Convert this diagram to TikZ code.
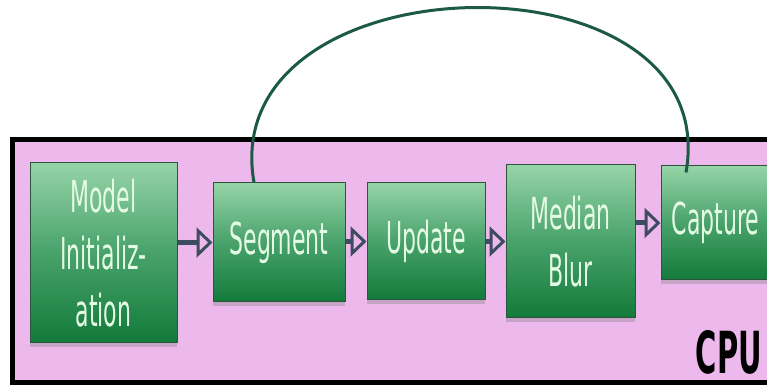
\documentclass[tikz,border=0pt]{standalone}
\usepackage{fontspec}
\setsansfont{DejaVu Sans}[FakeStretch=0.5]
\usetikzlibrary{arrows.meta,shadows}
\definecolor{cpuback}{RGB}{237,184,236}
\definecolor{stagetop}{RGB}{150,212,168}
\definecolor{stagemid}{RGB}{72,162,106}
\definecolor{stagebot}{RGB}{18,122,58}
\definecolor{stageedge}{RGB}{45,85,62}
\definecolor{stagetext}{RGB}{228,250,228}
\definecolor{flowarrow}{RGB}{62,76,96}
\definecolor{feedbackline}{RGB}{28,90,70}
\begin{document}
\begin{tikzpicture}[x=1pt,y=1pt,
  stage/.style={draw=stageedge, line width=1pt, top color=stagetop, bottom color=stagebot, middle color=stagemid,
    text=stagetext, font=\sffamily\fontsize{44}{57}\selectfont, align=center, inner sep=0pt,
    drop shadow={shadow xshift=0pt, shadow yshift=-4pt, opacity=0.35}},
  flow/.style={draw=flowarrow, line width=5pt, -{Triangle[open, length=16pt, width=30pt, line width=3pt]}},
  feedback/.style={draw=feedbackline, line width=3pt}]
\clip (0,0) rectangle (767,387);
\draw[line width=5pt, fill=cpuback] (12,4) rectangle (800,247); % CPU frame
\node[stage, minimum width=147pt, minimum height=180pt] (mi) at (103.5,134) {Model\\Initializ-\\ation};
\node[stage, minimum width=132pt, minimum height=119pt] (seg) at (279,144.5) {Segment};
\node[stage, minimum width=118pt, minimum height=117pt] (upd) at (426,145.5) {Update};
\node[stage, minimum width=129pt, minimum height=153pt] (mb) at (570.5,145.5) {Median\\Blur};
\node[stage, minimum width=109pt, minimum height=114pt] (cap) at (715.5,164) {Capture};
\node[font=\sffamily\bfseries\fontsize{58}{60}\selectfont, anchor=base east, inner sep=0pt] (cpu) at (762,13) {CPU};
\draw[flow] (mi.east |- seg.west) -- (seg.west);
\draw[flow] (seg.east |- upd.west) -- (upd.west);
\draw[flow] (upd.east |- mb.west) -- (mb.west);
\draw[flow] (mb.east |- cap.west) -- (cap.west);
\coordinate (segtop) at ([xshift=-25pt]seg.north);
\coordinate (captop) at ([xshift=-29.5pt, yshift=-7pt]cap.north);
\draw[feedback] (segtop) to[out=100, in=80, looseness=1.36] (captop); % loop back
\end{tikzpicture}
\end{document}
